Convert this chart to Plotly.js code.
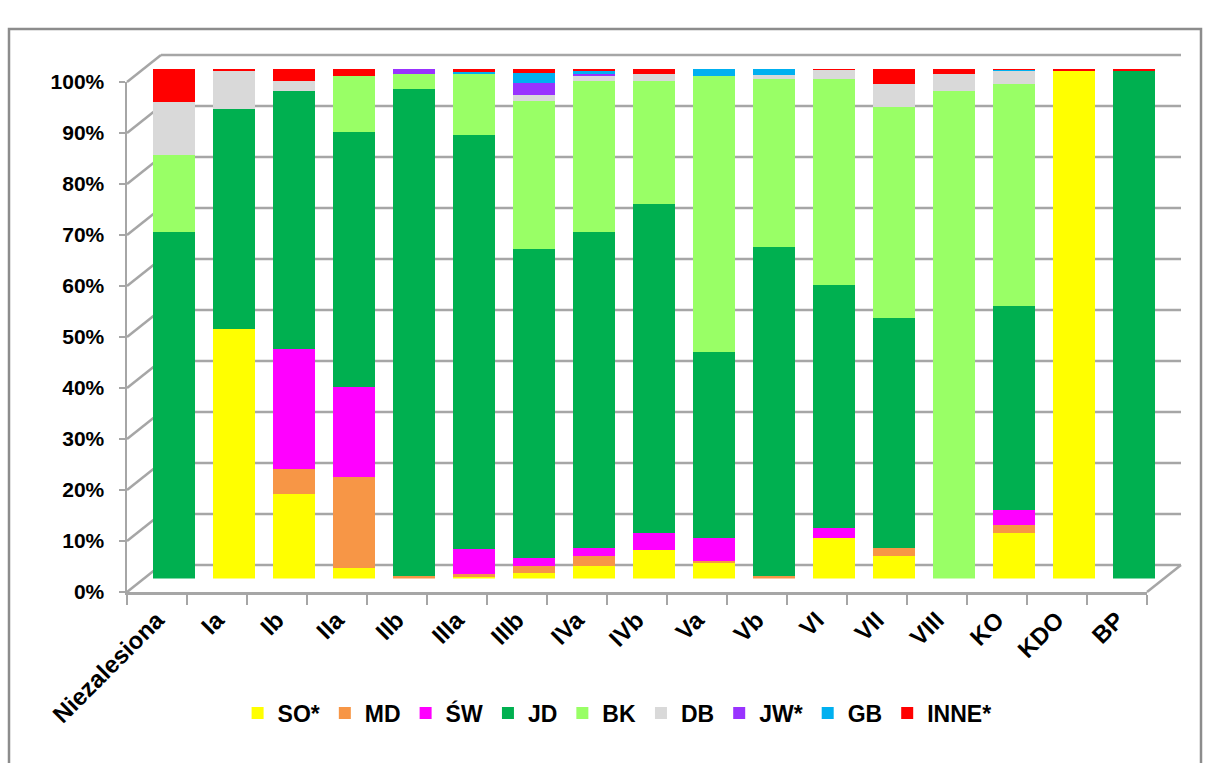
<!DOCTYPE html>
<html>
<head>
<meta charset="utf-8">
<script src="https://cdn.plot.ly/plotly-3.0.1.min.js"></script>
<style>html,body{margin:0;padding:0;background:#fff;}#chart{width:1210px;height:763px;}</style>
</head>
<body>
<div id="chart"></div>
<script>
// ---- data (percent shares) ----
const categories = ['Niezalesiona','Ia','Ib','IIa','IIb','IIIa','IIIb','IVa','IVb','Va','Vb','VI','VII','VIII','KO','KDO','BP'];
const seriesNames = ['SO*','MD','ŚW','JD','BK','DB','JW*','GB','INNE*'];
const SO   = [0, 49, 16.5, 2, 0, 0.3, 1, 2.5, 5.5, 3, 0, 8, 4.5, 0, 9, 99.5, 0];
const MD   = [0, 0, 5, 18, 0.5, 0.5, 1.5, 2, 0, 0.5, 0.5, 0, 1.5, 0, 1.5, 0, 0];
const SW   = [0, 0, 23.5, 17.5, 0, 5, 1.5, 1.5, 3.5, 4.5, 0, 2, 0, 0, 3, 0, 0];
const JD   = [68, 43, 50.5, 50, 95.5, 81.1, 60.7, 62, 64.5, 36.5, 64.5, 47.5, 45, 0, 40, 0, 99.5];
const BK   = [15, 0, 0, 11, 3, 12, 29, 29.5, 24, 54, 33, 40.5, 41.5, 95.5, 43.5, 0, 0];
const DB   = [10.5, 7.5, 2, 0, 0, 0, 1.2, 1, 1.5, 0, 0.7, 1.7, 4.5, 3.5, 2.5, 0, 0];
const JW   = [0, 0, 0, 0, 1, 0, 2.3, 0.5, 0, 0, 0, 0, 0, 0, 0, 0, 0];
const GB   = [0, 0, 0, 0, 0, 0.5, 2, 0.5, 0, 1.5, 1.3, 0, 0, 0, 0.2, 0, 0];
const INNE = [6.5, 0.5, 2.5, 1.5, 0, 0.6, 0.7, 0.5, 1, 0, 0, 0.3, 3, 1, 0.3, 0.5, 0.5];
const tickVals = [0,10,20,30,40,50,60,70,80,90,100];
const tickLabels = ['0%','10%','20%','30%','40%','50%','60%','70%','80%','90%','100%'];

// ---- styling / geometry ----
const seriesData = [SO, MD, SW, JD, BK, DB, JW, GB, INNE];
const colors = ['#FFFF00','#F79646','#FF00FF','#00B050','#99FF66','#D9D9D9','#9933FF','#00B0F0','#FF0000'];
const W = 1210, H = 763;
const FX0 = 127, FX1 = 1147, FY0 = 592, FY1 = 82;   // front plane
const DX = 34, DY = -27;                              // depth offset
const px = x => x / W, py = y => 1 - y / H;
const yFront = v => FY0 - (FY0 - FY1) * v / 100;
const gridColor = '#A6A6A6';
const font = 'Liberation Sans, Arial, sans-serif';

const traces = seriesNames.map((name, i) => ({
  type: 'bar', name: name, x: categories, y: seriesData[i],
  marker: {color: colors[i], line: {width: 0}},
  xaxis: 'x3', yaxis: 'y3', hoverinfo: 'skip'
}));
// carrier for front axes (draws nothing)
traces.push({type: 'scatter', mode: 'none', x: categories, y: JD, xaxis: 'x2', yaxis: 'y2',
  showlegend: false, hoverinfo: 'skip'});

const shapes = [];
tickVals.forEach(v => {
  const yf = yFront(v), yb = yf + DY;
  shapes.push({type: 'line', xref: 'paper', yref: 'paper', layer: 'below',
    x0: px(FX0 + DX), x1: px(FX1 + DX), y0: py(yb), y1: py(yb), line: {color: gridColor, width: 2.5}});
  shapes.push({type: 'line', xref: 'paper', yref: 'paper', layer: 'below',
    x0: px(FX0), x1: px(FX0 + DX), y0: py(yf), y1: py(yb), line: {color: gridColor, width: 2.5}});
});
shapes.push({type: 'line', xref: 'paper', yref: 'paper', layer: 'below',
  x0: px(FX1), x1: px(FX1 + DX), y0: py(FY0), y1: py(FY0 + DY), line: {color: gridColor, width: 2.5}});
// outer frame
shapes.push({type: 'rect', xref: 'paper', yref: 'paper', layer: 'below',
  x0: px(9), x1: px(1201), y0: py(29), y1: py(800), line: {color: '#8C8C8C', width: 2.5}});

const layout = {
  width: W, height: H, autosize: false,
  margin: {l: 0, r: 0, t: 0, b: 0},
  paper_bgcolor: '#fff', plot_bgcolor: 'rgba(0,0,0,0)',
  barmode: 'stack', bargap: 0.31,
  font: {family: font, color: '#000'},
  showlegend: true,
  legend: {orientation: 'h', x: 0.51, xanchor: 'center', y: py(713), yanchor: 'middle',
    font: {family: font, size: 23, weight: 'bold', color: '#000'}, traceorder: 'normal',
    itemwidth: 30, tracegroupgap: 0},
  // bars (mid depth)
  xaxis3: {domain: [px(FX0 + DX/2), px(FX1 + DX/2)], anchor: 'y3', type: 'category',
    categoryorder: 'array', categoryarray: categories, range: [-0.5, categories.length - 0.5],
    showgrid: false, showline: false, zeroline: false, showticklabels: false, ticks: ''},
  yaxis3: {domain: [py(FY0 + DY/2), py(FY1 + DY/2)], anchor: 'x3', range: [0, 100],
    showgrid: false, showline: false, zeroline: false, showticklabels: false, ticks: ''},
  // front axes
  xaxis2: {domain: [px(FX0), px(FX1)], anchor: 'y2', type: 'category',
    categoryorder: 'array', categoryarray: categories, range: [-0.5, categories.length - 0.5],
    showgrid: false, zeroline: false, showline: true, linecolor: gridColor, linewidth: 2.5,
    ticks: 'outside', tickson: 'boundaries', ticklen: 10, tickcolor: gridColor, tickwidth: 2,
    tickangle: -45, ticklabelstandoff: 2,
    tickfont: {family: font, size: 24, weight: 'bold', color: '#000'}},
  yaxis2: {domain: [py(FY0), py(FY1)], anchor: 'x2', range: [0, 100],
    tickvals: tickVals, ticktext: tickLabels,
    showgrid: false, zeroline: false, showline: true, linecolor: gridColor, linewidth: 2.5,
    ticks: 'outside', ticklen: 6, tickcolor: gridColor, tickwidth: 2, ticklabelstandoff: 10,
    tickfont: {family: font, size: 21, weight: 'bold', color: '#000'}},
  shapes: shapes
};

Plotly.newPlot('chart', traces, layout, {displayModeBar: false, staticPlot: true});
</script>
</body>
</html>
